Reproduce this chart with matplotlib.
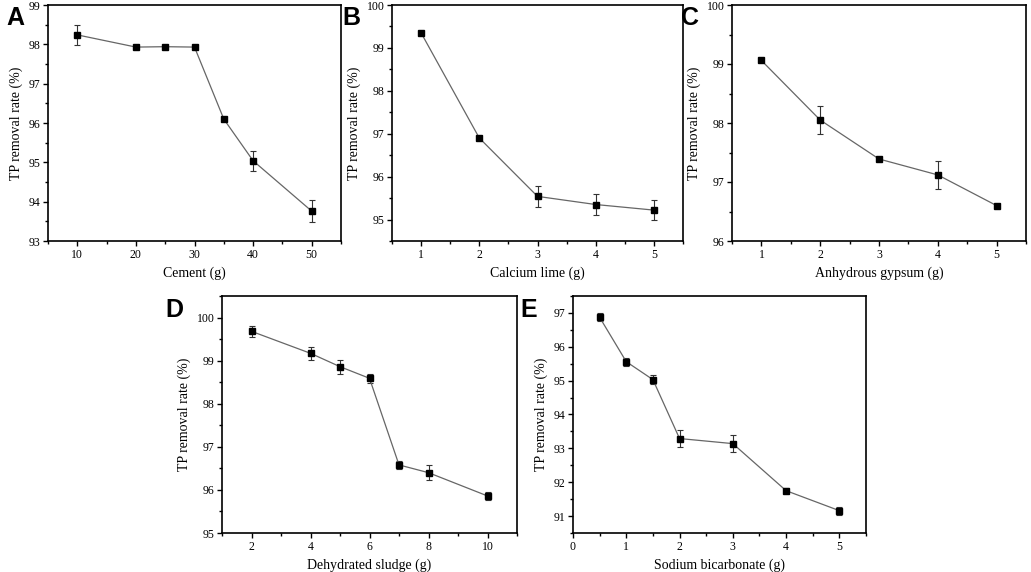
import matplotlib.pyplot as plt
import numpy as np
from matplotlib.ticker import MultipleLocator

plt.rcParams['font.family'] = ['Liberation Serif', 'DejaVu Serif']

# data
cement_x = [10, 20, 25, 30, 35, 40, 50]
cement_y = [98.24, 97.93, 97.94, 97.93, 96.10, 95.04, 93.76]
cement_err = [0.25, 0.03, 0.03, 0.03, 0.03, 0.25, 0.27]

lime_x = [1, 2, 3, 4, 5]
lime_y = [99.35, 96.90, 95.54, 95.35, 95.22]
lime_err = [0.03, 0.03, 0.24, 0.24, 0.23]

gypsum_x = [1, 2, 3, 4, 5]
gypsum_y = [99.06, 98.05, 97.39, 97.12, 96.60]
gypsum_err = [0.03, 0.24, 0.03, 0.24, 0.03]

sludge_x = [2, 4, 5, 6, 7, 8, 10]
sludge_y = [99.68, 99.17, 98.86, 98.59, 96.58, 96.40, 95.86]
sludge_err = [0.13, 0.15, 0.16, 0.10, 0.10, 0.17, 0.10]

bicarb_x = [0.5, 1, 1.5, 2, 3, 4, 5]
bicarb_y = [96.87, 95.56, 95.03, 93.29, 93.14, 91.75, 91.16]
bicarb_err = [0.12, 0.12, 0.13, 0.25, 0.26, 0.08, 0.12]

W, H = 1031, 572
fig = plt.figure(figsize=(W / 100, H / 100), dpi=100)

def make_ax(l, t, r, b):
    return fig.add_axes([l / W, 1 - b / H, (r - l) / W, (b - t) / H])

panels = [
    # letter, x, y, err, xlabel, box, xlim, ylim, xmajor, xminor, ymajor, yminor, letter pos
    ("A", cement_x, cement_y, cement_err, "Cement (g)", (48, 5, 341, 241),
     (5, 55), (93, 99), 10, 5, 1, 0.5, (6, 18)),
    ("B", lime_x, lime_y, lime_err, "Calcium lime (g)", (392, 5, 683, 241),
     (0.5, 5.5), (94.5, 100), 1, 0.5, 1, 0.5, (342, 18)),
    ("C", gypsum_x, gypsum_y, gypsum_err, "Anhydrous gypsum (g)", (732, 5, 1026, 241),
     (0.5, 5.5), (96, 100), 1, 0.5, 1, 0.5, (681, 18)),
    ("D", sludge_x, sludge_y, sludge_err, "Dehydrated sludge (g)", (222, 296, 517, 533),
     (1, 11), (95, 100.5), 2, 1, 1, 0.5, (165, 310)),
    ("E", bicarb_x, bicarb_y, bicarb_err, "Sodium bicarbonate (g)", (573, 296, 866, 533),
     (0, 5.5), (90.5, 97.5), 1, 0.5, 1, 0.5, (520, 310)),
]

for (letter, x, y, err, xlabel, box, xlim, ylim, xmaj, xmin, ymaj, ymin, lpos) in panels:
    ax = make_ax(*box)
    ax.errorbar(x, y, yerr=err, color='#666666', ecolor='#333333', elinewidth=0.8,
                capsize=2, capthick=0.8, linewidth=0.9, marker='s', markersize=5,
                markerfacecolor='black', markeredgecolor='black')
    ax.set_xlim(*xlim)
    ax.set_ylim(*ylim)
    ax.xaxis.set_major_locator(MultipleLocator(xmaj))
    ax.xaxis.set_minor_locator(MultipleLocator(xmin))
    ax.yaxis.set_major_locator(MultipleLocator(ymaj))
    ax.yaxis.set_minor_locator(MultipleLocator(ymin))
    ax.tick_params(which='major', direction='out', length=3.5, width=1, labelsize=8.5, pad=2)
    ax.tick_params(which='minor', direction='out', length=2, width=1)
    for s in ax.spines.values():
        s.set_linewidth(1.2)
    ax.set_xlabel(xlabel, fontsize=10)
    ax.set_ylabel("TP removal rate (%)", fontsize=10)
    fig.text(lpos[0] / W, 1 - lpos[1] / H, letter, fontsize=18, fontweight='bold',
             family=['Liberation Sans', 'DejaVu Sans'], ha='left', va='center')

fig.savefig("out.png", dpi=100)
